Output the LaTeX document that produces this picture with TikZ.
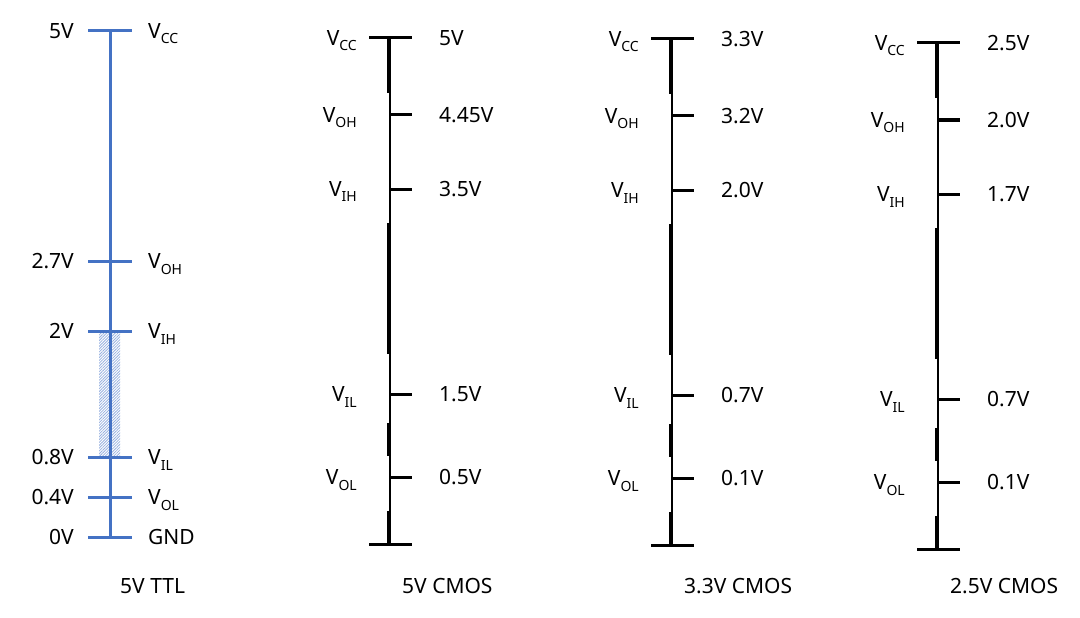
\documentclass[tikz,border=0pt]{standalone}
\usepackage{fontspec}
\setmainfont{Noto Sans}
\usepackage{tikz}
\usetikzlibrary{patterns.meta}
\definecolor{ttlblue}{RGB}{68,114,196}
\newcommand{\lsub}[1]{\raisebox{-5.5pt}{\fontsize{14}{14}\selectfont #1}}

\begin{document}
\begin{tikzpicture}[x=1pt, y=-1pt, font=\fontsize{21}{25}\selectfont,
  ttlline/.style={draw=ttlblue, line width=3pt},
  thinline/.style={line width=1.3pt},
  thickline/.style={line width=4.5pt},
  tickline/.style={line width=3pt},
  leftlab/.style={anchor=base east, yshift=-7.5pt, inner sep=0pt},
  rightlab/.style={anchor=base west, yshift=-7.5pt, inner sep=0pt},
  caption/.style={anchor=base west, yshift=-7.5pt, inner sep=0pt}]
  \useasboundingbox (0,0) rectangle (1080,618);

  % 5V TTL
  \coordinate (t5) at (110,31);
  \coordinate (t27) at (110,261);
  \coordinate (t2) at (110,331);
  \coordinate (t08) at (110,457);
  \coordinate (t04) at (110,497);
  \coordinate (t0) at (110,537);
  \fill[pattern={Lines[angle=45, distance=2pt, line width=0.8pt]}, pattern color=ttlblue!55]
    (99,332) rectangle (120,456);
  \draw[ttlline] (t5) -- (t0);
  \foreach \c in {t5,t27,t2,t08,t04,t0}
    \draw[ttlline] ([xshift=-22pt]\c) -- ([xshift=22pt]\c);
  \node[leftlab] (t5l) at (74,31) {5V};
  \node[leftlab] (t27l) at (74,261) {2.7V};
  \node[leftlab] (t2l) at (74,331) {2V};
  \node[leftlab] (t08l) at (74,457) {0.8V};
  \node[leftlab] (t04l) at (74,497) {0.4V};
  \node[leftlab] (t0l) at (74,537) {0V};
  \node[rightlab] (t5r) at (148,31) {V\lsub{CC}};
  \node[rightlab] (t27r) at (148,261) {V\lsub{OH}};
  \node[rightlab] (t2r) at (148,331) {V\lsub{IH}};
  \node[rightlab] (t08r) at (148,457) {V\lsub{IL}};
  \node[rightlab] (t04r) at (148,497) {V\lsub{OL}};
  \node[rightlab] (t0r) at (148,537) {GND};
  \node[caption] (ttlcap) at (120,586) {5V TTL};

  % CMOS scales
  \foreach \X/\d/\vcc/\voh/\vih/\vil/\vol/\cap in {
      390/0/5V/4.45V/3.5V/1.5V/0.5V/5V CMOS,
      672/1/3.3V/3.2V/2.0V/0.7V/0.1V/3.3V CMOS,
      938/5/2.5V/2.0V/1.7V/0.7V/0.1V/2.5V CMOS} {
    \coordinate (c\X top) at (\X,38+\d);
    \coordinate (c\X oh) at (\X,115+\d);
    \coordinate (c\X ih) at (\X,189+\d);
    \coordinate (c\X il) at (\X,394+\d);
    \coordinate (c\X ol) at (\X,477+\d);
    \coordinate (c\X bot) at (\X,544+\d);
    \draw[thinline] (c\X top) -- (c\X bot);
    \draw[thickline] ([xshift=-1pt]c\X top) -- ++(0,55);
    \draw[thickline] ([xshift=-1pt]c\X ih) ++(0,34) -- ++(0,131);
    \draw[thickline] ([xshift=-1pt]c\X il) ++(0,29) -- ++(0,33);
    \draw[thickline] ([xshift=-1pt]c\X bot) -- ++(0,-33);
    \draw[tickline] ([xshift=-21pt]c\X top) -- ([xshift=22pt]c\X top);
    \draw[tickline] ([xshift=-21pt]c\X bot) -- ([xshift=22pt]c\X bot);
    \foreach \t in {oh,ih,il,ol}
      \draw[tickline] (c\X \t) -- ([xshift=22pt]c\X \t);
    \node[leftlab] (c\X topl) at ([xshift=-33pt]c\X top) {V\lsub{CC}};
    \node[leftlab] (c\X ohl) at ([xshift=-33pt]c\X oh) {V\lsub{OH}};
    \node[leftlab] (c\X ihl) at ([xshift=-33pt]c\X ih) {V\lsub{IH}};
    \node[leftlab] (c\X ill) at ([xshift=-33pt]c\X il) {V\lsub{IL}};
    \node[leftlab] (c\X oll) at ([xshift=-33pt]c\X ol) {V\lsub{OL}};
    \node[rightlab] (c\X topr) at ([xshift=49pt]c\X top) {\vcc};
    \node[rightlab] (c\X ohr) at ([xshift=49pt]c\X oh) {\voh};
    \node[rightlab] (c\X ihr) at ([xshift=49pt]c\X ih) {\vih};
    \node[rightlab] (c\X ilr) at ([xshift=49pt]c\X il) {\vil};
    \node[rightlab] (c\X olr) at ([xshift=49pt]c\X ol) {\vol};
    \node[caption] (c\X cap) at (\X+12,586) {\cap};
  }
\end{tikzpicture}
\end{document}
